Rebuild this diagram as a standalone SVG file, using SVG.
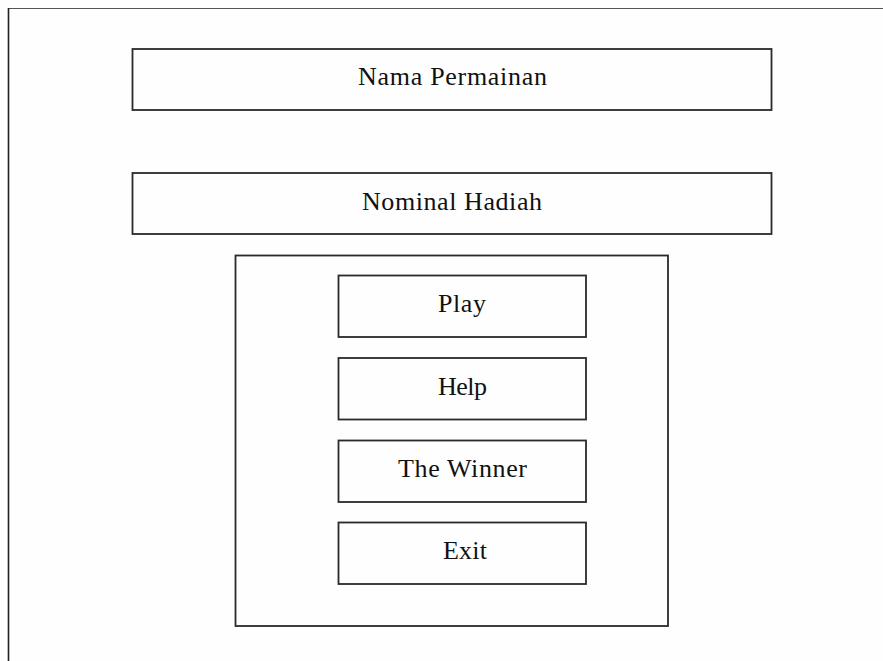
<svg xmlns="http://www.w3.org/2000/svg" width="883" height="661" viewBox="0 0 883 661">
  <style>
    .box { fill: none; stroke: #2a2a2a; stroke-width: 1.8; }
    .lbl { font-family: "Liberation Serif", "Times New Roman", serif; font-size: 26px; fill: #111; text-anchor: middle; }
  </style>
  <rect width="883" height="661" fill="#fefefe"/>
  <!-- page frame (open on right and bottom) -->
  <g id="frame">
    <line x1="8.5" y1="8.5" x2="883" y2="8.5" stroke="#555" stroke-width="1.2"/>
    <line x1="8.5" y1="8" x2="8.5" y2="661" stroke="#222" stroke-width="1.6"/>
  </g>
  <g id="nama-permainan">
    <rect class="box" x="132.5" y="49" width="639" height="61"/>
    <text class="lbl" x="452.5" y="85" textLength="189" lengthAdjust="spacing">Nama Permainan</text>
  </g>
  <g id="nominal-hadiah">
    <rect class="box" x="132.5" y="173" width="639" height="61"/>
    <text class="lbl" x="452" y="210" textLength="180" lengthAdjust="spacing">Nominal Hadiah</text>
  </g>
  <g id="menu-panel">
    <rect class="box" x="235.5" y="255.5" width="432.5" height="370.5"/>
  </g>
  <g id="play">
    <rect class="box" x="338.5" y="275.5" width="247.5" height="61.5"/>
    <text class="lbl" x="462" y="312" textLength="48" lengthAdjust="spacing">Play</text>
  </g>
  <g id="help">
    <rect class="box" x="338.5" y="358" width="247.5" height="61.5"/>
    <text class="lbl" x="462.5" y="395" textLength="49" lengthAdjust="spacing">Help</text>
  </g>
  <g id="the-winner">
    <rect class="box" x="338.5" y="440.5" width="247.5" height="61.5"/>
    <text class="lbl" x="462.5" y="477" textLength="129" lengthAdjust="spacing">The Winner</text>
  </g>
  <g id="exit">
    <rect class="box" x="338.5" y="522.5" width="247.5" height="61.5"/>
    <text class="lbl" x="465" y="559" textLength="44" lengthAdjust="spacing">Exit</text>
  </g>
  <g id="connectors"/>
</svg>
